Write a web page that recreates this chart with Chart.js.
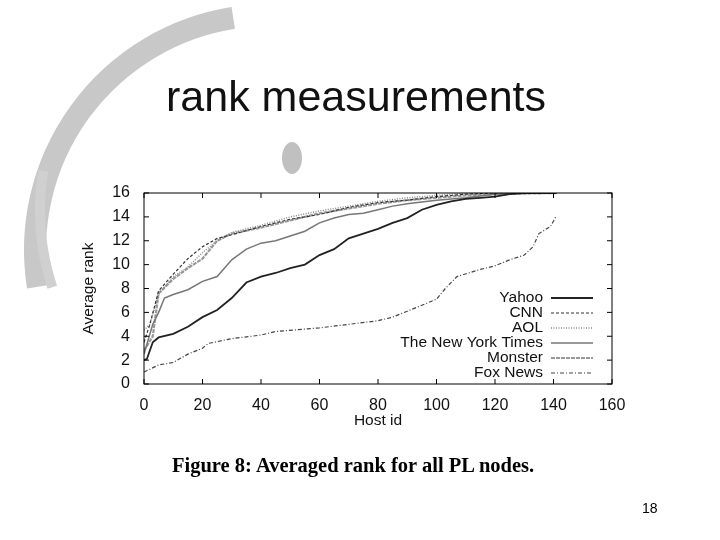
<!DOCTYPE html>
<html><head><meta charset="utf-8">
<script src="https://cdn.jsdelivr.net/npm/chart.js@4"></script>
<style>
html,body{margin:0;padding:0;background:#fff;width:720px;height:540px;overflow:hidden;font-family:"Liberation Sans",Arial,sans-serif}
#c{position:absolute;left:0;top:0}
.t{position:absolute;white-space:nowrap}
</style></head><body>
<canvas id="c" width="720" height="540"></canvas>
<div class="t" style="left:166px;top:72px;font-size:43px;color:#111">rank measurements</div>
<div class="t" style="left:172px;top:454px;font-size:20.5px;font-weight:bold;font-family:'Liberation Serif',serif">Figure 8: Averaged rank for all PL nodes.</div>
<div class="t" style="left:642px;top:500px;font-size:14px">18</div>
<script>
const seriesNames=["Yahoo","CNN","AOL","The New York Times","Monster","Fox News"];
const xTicks=[0,20,40,60,80,100,120,140,160];
const yTicks=[0,2,4,6,8,10,12,14,16];
const yahooX=[0,1,3,5,10,15,20,25,30,35,40,45,50,55,60,65,70,75,80,85,90,95,100,105,110,115,120,125,130,141];
const yahooY=[2,2.1,3.5,3.9,4.2,4.8,5.6,6.2,7.2,8.5,9,9.3,9.7,10,10.8,11.3,12.2,12.6,13,13.5,13.9,14.6,15,15.3,15.5,15.6,15.7,15.9,16,16];
const cnnX=[0,2,5,10,15,20,25,30,40,50,60,70,80,90,100,110,120,141];
const cnnY=[3.5,5,7.8,9.2,10.5,11.5,12.2,12.5,13.2,13.8,14.2,14.8,15.2,15.4,15.7,15.9,16,16];
const aolX=[0,2,5,10,15,20,25,30,40,50,60,70,80,90,100,110,141];
const aolY=[4.5,5,7.5,9,9.8,11,12,12.7,13.3,14,14.5,14.9,15.3,15.6,15.8,16,16];
const nytX=[0,3,5,7,10,15,20,25,30,35,40,45,50,55,60,65,70,75,80,85,90,100,110,120,130,141];
const nytY=[2.5,5,6,7.2,7.5,7.9,8.6,9,10.4,11.3,11.8,12,12.4,12.8,13.5,13.9,14.2,14.3,14.6,14.9,15.1,15.4,15.6,15.9,16,16];
const monsterX=[0,3,5,10,15,20,25,30,40,50,60,70,80,90,100,110,120,141];
const monsterY=[2.8,4,7.6,8.8,9.7,10.5,12,12.6,13.1,13.7,14.3,14.7,15.1,15.4,15.6,15.8,15.9,16];
const foxX=[0,5,10,15,20,22,30,40,45,60,70,80,85,90,95,100,103,107,115,120,125,130,133,135,139,141];
const foxY=[1,1.6,1.8,2.5,3,3.4,3.8,4.1,4.4,4.7,5,5.3,5.6,6.1,6.6,7.1,8,9,9.6,9.9,10.4,10.8,11.5,12.6,13.2,14.1];

const pts=(xs,ys)=>xs.map((x,i)=>({x,y:ys[i]}));
const styles=[
 {c:'#222',w:1.8,d:[]},
 {c:'#333',w:1.2,d:[3,2]},
 {c:'#888',w:1.4,d:[1,1.5]},
 {c:'#777',w:1.5,d:[]},
 {c:'#999',w:2.2,d:[4,1]},
 {c:'#444',w:1.2,d:[4,2,1,2]}
];
const raw=[[yahooX,yahooY],[cnnX,cnnY],[aolX,aolY],[nytX,nytY],[monsterX,monsterY],[foxX,foxY]];
const datasets=raw.map((r,i)=>({label:seriesNames[i],data:pts(r[0],r[1]),borderColor:styles[i].c,borderWidth:styles[i].w,borderDash:styles[i].d,pointRadius:0,fill:false,tension:0}));

const deco={id:'deco',
 beforeDraw(ch){const g=ch.ctx;g.save();
  g.strokeStyle='#c8c8c8';g.lineWidth=22;g.beginPath();g.arc(270,250,235,Math.PI*0.95,Math.PI*1.45);g.stroke();
  g.lineWidth=10;g.strokeStyle='#d0d0d0';g.beginPath();g.arc(290,210,250,Math.PI*0.9,Math.PI*1.05);g.stroke();
  g.fillStyle='#c0c0c0';g.beginPath();g.ellipse(292,158,10,16,0,0,Math.PI*2);g.fill();
  g.restore();
  const a=ch.chartArea;g.fillStyle='#fff';g.fillRect(a.left-70,a.top-10,a.right-a.left+110,a.bottom-a.top+60);},
 afterDraw(ch){const g=ch.ctx,a=ch.chartArea;g.save();
  g.strokeStyle='#000';g.lineWidth=1;g.strokeRect(a.left,a.top,a.right-a.left,a.bottom-a.top);
  const xs=ch.scales.x,ys=ch.scales.y;
  xTicks.forEach(v=>{const p=xs.getPixelForValue(v);g.beginPath();g.moveTo(p,a.bottom);g.lineTo(p,a.bottom-5);g.moveTo(p,a.top);g.lineTo(p,a.top+5);g.stroke();});
  yTicks.forEach(v=>{const p=ys.getPixelForValue(v);g.beginPath();g.moveTo(a.left,p);g.lineTo(a.left+5,p);g.moveTo(a.right,p);g.lineTo(a.right-5,p);g.stroke();});
  g.font='15.5px "Liberation Sans"';g.textAlign='right';g.textBaseline='middle';g.fillStyle='#111';
  datasets.forEach((d,i)=>{const y=298+i*15;g.fillText(d.label,543,y);
   g.strokeStyle=d.borderColor;g.lineWidth=d.borderWidth;g.setLineDash(d.borderDash);g.beginPath();g.moveTo(551,y);g.lineTo(593,y);g.stroke();g.setLineDash([]);});
  g.restore();}
};
new Chart(document.getElementById('c'),{type:'line',data:{datasets},
 options:{responsive:false,animation:false,
  layout:{padding:{left:75,right:108,top:193,bottom:106}},
  plugins:{legend:{display:false},tooltip:{enabled:false}},
  scales:{
   x:{type:'linear',min:0,max:160,afterBuildTicks(s){s.ticks=xTicks.map(v=>({value:v}));},afterFit(s){s.height=50;},
      grid:{display:false},border:{display:false},
      ticks:{color:'#111',font:{size:16,family:'Liberation Sans'},padding:4},
      title:{display:true,text:'Host id',color:'#111',font:{size:15.5,family:'Liberation Sans'},padding:{top:0}}},
   y:{type:'linear',min:0,max:16,afterBuildTicks(s){s.ticks=yTicks.map(v=>({value:v}));},afterFit(s){s.width=69;},
      grid:{display:false},border:{display:false},
      ticks:{color:'#111',font:{size:16,family:'Liberation Sans'},padding:6},
      title:{display:true,text:'Average rank',color:'#111',font:{size:15.5,family:'Liberation Sans'}}}
  }},plugins:[deco]});
</script></body></html>
